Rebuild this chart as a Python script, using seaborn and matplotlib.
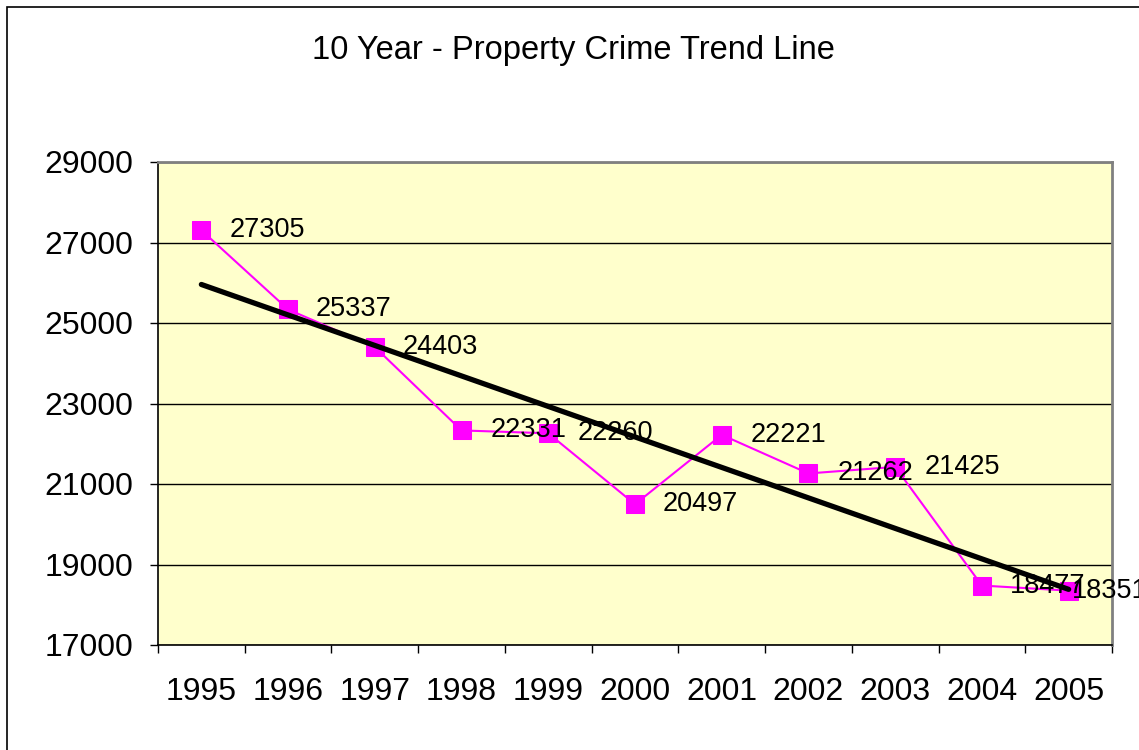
import matplotlib
matplotlib.use("Agg")
import matplotlib.pyplot as plt
import seaborn as sns
import numpy as np
import pandas as pd
from matplotlib.patches import Rectangle

years = ["1995", "1996", "1997", "1998", "1999", "2000", "2001", "2002", "2003", "2004", "2005"]
crimes = [27305, 25337, 24403, 22331, 22260, 20497, 22221, 21262, 21425, 18477, 18351]
yticks = [17000, 19000, 21000, 23000, 25000, 27000, 29000]
title = "10 Year - Property Crime Trend Line"

sns.set_theme(style="white")
plt.rcParams["font.family"] = ["Liberation Sans", "DejaVu Sans"]
plt.rcParams["text.color"] = "black"
plt.rcParams["xtick.color"] = "black"
plt.rcParams["ytick.color"] = "black"

df = pd.DataFrame({"idx": np.arange(len(years)), "crimes": crimes})

fig = plt.figure(figsize=(11.39, 7.5), dpi=100)
ax = fig.add_axes([158/1139, 1-645/750, (1112-158)/1139, (645-162)/750])
ax.set_facecolor("#FFFFCC")

sns.lineplot(data=df, x="idx", y="crimes", ax=ax, color="#FF00FF", lw=1.5,
             marker="s", markersize=13, markeredgecolor="#FF00FF", zorder=3)
sns.regplot(data=df, x="idx", y="crimes", ax=ax, scatter=False, ci=None,
            color="black", line_kws={"lw": 3.8, "zorder": 4})

label_dx = [28, 28, 28, 29, 29, 28, 29, 29, 29, 28, 3]
for i, v in enumerate(crimes):
    ax.annotate(str(v), (i, v), xytext=(label_dx[i] * 0.72, 0), textcoords="offset points",
                ha="left", va="center", fontsize=19.5, color="black", zorder=5,
                annotation_clip=False)

ax.set_xlim(-0.5, len(years) - 0.5)
ax.set_ylim(17000, 29000)
ax.set_yticks(yticks)
ax.set_yticklabels([str(t) for t in yticks], fontsize=23)
ax.set_xticks(np.arange(len(years)))
ax.set_xticklabels(years, fontsize=23)
ax.set_xticks(np.arange(len(years) + 1) - 0.5, minor=True)
ax.tick_params(axis="x", which="major", length=0, pad=23)
ax.tick_params(axis="x", which="minor", length=6, width=1, color="black", direction="out", bottom=True)
ax.tick_params(axis="y", which="major", length=6, width=1, color="black", direction="out", left=True, pad=12)
ax.set_xlabel("")
ax.set_ylabel("")
ax.yaxis.grid(True, color="black", lw=1)
ax.set_axisbelow(True)

for s in ["left", "bottom"]:
    ax.spines[s].set_color("black")
    ax.spines[s].set_linewidth(1.2)
for s in ["top", "right"]:
    ax.spines[s].set_color("#808080")
    ax.spines[s].set_linewidth(2)
    ax.spines[s].set_visible(True)

fig.text(573/1139, 1-50/750, title, ha="center", va="center", fontsize=23.5, color="black")

fig.patches.append(Rectangle((7/1139, -0.1), 1.2, 1-7/750 + 0.1, transform=fig.transFigure,
                             fill=False, edgecolor="black", lw=1.2))

fig.savefig("out.png", dpi=100)
